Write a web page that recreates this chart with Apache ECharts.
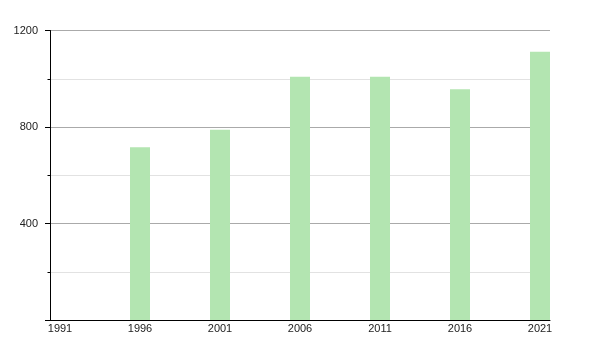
<!DOCTYPE html>
<html>
<head>
<meta charset="utf-8">
<script src="https://cdn.jsdelivr.net/npm/echarts@6/dist/echarts.min.js"></script>
<style>html,body{margin:0;padding:0;background:#fff}#c{width:600px;height:350px}</style>
</head>
<body>
<div id="c"></div>
<script>
const years = [1991, 1996, 2001, 2006, 2011, 2016, 2021];
const values = [null, 716, 789, 1008, 1008, 956, 1112];
const yTicks = [400, 800, 1200];

const chart = echarts.init(document.getElementById('c'), null, {renderer: 'canvas'});
const font = {fontFamily: 'Liberation Sans, Arial, sans-serif', fontSize: 11, color: '#222'};
chart.setOption({
  animation: false,
  grid: {left: 50, right: 50, top: 30.5, bottom: 30, containLabel: false},
  xAxis: {
    type: 'value',
    min: 1990.375,
    max: 2021.625,
    axisLine: {show: true, onZero: false, lineStyle: {color: '#000', width: 1}},
    axisTick: {show: false},
    splitLine: {show: false},
    axisLabel: Object.assign({margin: 3, customValues: years, formatter: v => String(v), showMinLabel: true, showMaxLabel: true}, font)
  },
  yAxis: {
    type: 'value',
    min: 0,
    max: 1200,
    interval: 400,
    axisLine: {show: true, lineStyle: {color: '#000', width: 1}},
    axisTick: {show: true, length: 5, lineStyle: {color: '#000'}},
    minorTick: {show: true, splitNumber: 2, length: 2.5, lineStyle: {color: '#000'}},
    splitLine: {show: true, lineStyle: {color: '#aaaaaa', width: 1}},
    minorSplitLine: {show: true, lineStyle: {color: '#e2e2e2', width: 1}},
    axisLabel: Object.assign({margin: 12, formatter: v => (yTicks.indexOf(v) >= 0 ? String(v) : '')}, font)
  },
  series: [{
    type: 'bar',
    barWidth: 20,
    itemStyle: {color: '#b3e5b1'},
    data: years.map((y, i) => [y, values[i]])
  }]
});
</script>
</body>
</html>
